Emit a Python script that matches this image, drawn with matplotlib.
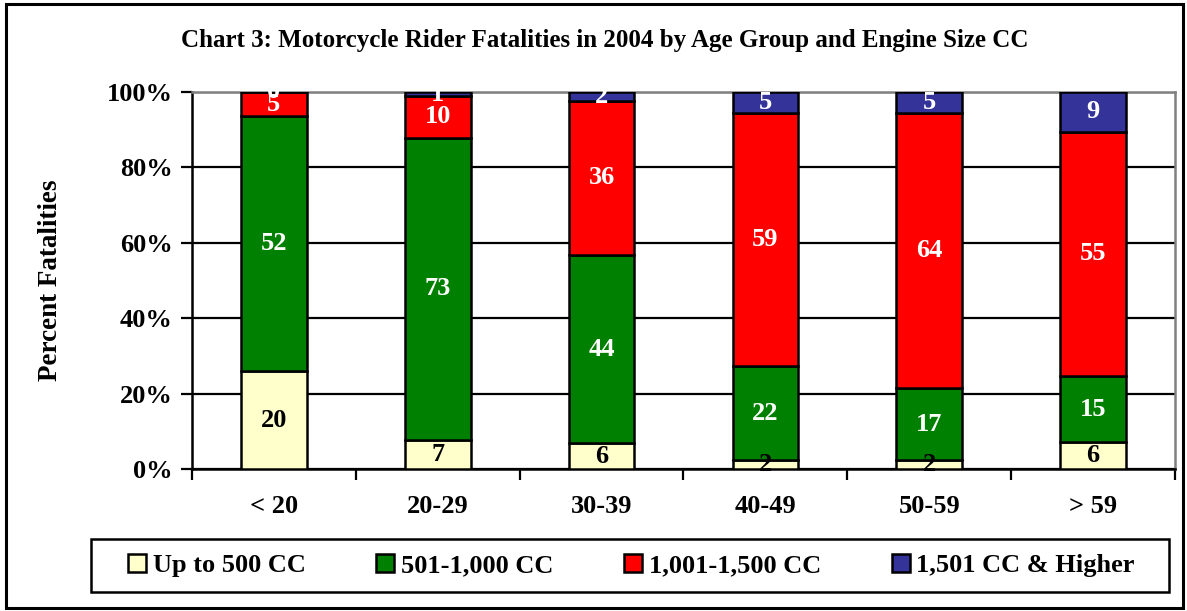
import matplotlib
matplotlib.use("Agg")
import matplotlib.pyplot as plt
import numpy as np
from matplotlib.patches import Rectangle

plt.rcParams["font.family"] = ["Liberation Serif", "DejaVu Serif"]
plt.rcParams["font.weight"] = "bold"

AGES = ["< 20", "20-29", "30-39", "40-49", "50-59", "> 59"]
SERIES = ["Up to 500 CC", "501-1,000 CC", "1,001-1,500 CC", "1,501 CC & Higher"]
UP_TO_500 = [20, 7, 6, 2, 2, 6]
CC_501_1000 = [52, 73, 44, 22, 17, 15]
CC_1001_1500 = [5, 10, 36, 59, 64, 55]
CC_1501_UP = [0, 1, 2, 5, 5, 9]
COLORS = ["#FFFFCC", "#008000", "#FF0000", "#333399"]
TEXT_COLORS = ["black", "white", "white", "white"]

W, H = 1187, 611
fig = plt.figure(figsize=(W / 100, H / 100), dpi=100)
ax = fig.add_axes([192 / W, 1 - 469 / H, (1175 - 192) / W, (469 - 92) / H])

counts = np.array([UP_TO_500, CC_501_1000, CC_1001_1500, CC_1501_UP], dtype=float)
pct = counts / counts.sum(axis=0) * 100
x = np.arange(len(AGES))

# labels may hang below the axis but get cut at the 100% line
clip = Rectangle((0, -0.2), 1, 1.2, transform=ax.transAxes, visible=False)
ax.add_patch(clip)

bottom = np.zeros(len(AGES))
for i, name in enumerate(SERIES):
    ax.bar(x, pct[i], 0.4, bottom=bottom, color=COLORS[i], edgecolor="black",
           linewidth=1.8, label=name, zorder=3)
    for j in range(len(AGES)):
        t = ax.text(x[j], bottom[j] + pct[i][j] / 2, f"{int(counts[i][j])}",
                    ha="center", va="center", fontsize=19, fontweight="bold",
                    color=TEXT_COLORS[i], zorder=4)
        t.set_clip_path(clip)
    bottom += pct[i]

ax.set_xlim(-0.5, len(AGES) - 0.5)
ax.set_ylim(0, 100)
ax.set_yticks([0, 20, 40, 60, 80, 100])
ax.set_yticklabels([f"{v}%" for v in [0, 20, 40, 60, 80, 100]])
ax.yaxis.grid(True, color="black", linewidth=1.6, zorder=0)
ax.set_axisbelow(True)
ax.set_xticks(np.arange(-0.5, len(AGES)))
ax.set_xticklabels([])
ax.set_xticks(x, AGES, minor=True)
ax.tick_params(axis="x", which="major", direction="out", length=8, width=1.6)
ax.tick_params(axis="x", which="minor", length=0, pad=19, labelsize=19)
ax.tick_params(axis="y", direction="out", length=8, width=1.6, labelsize=19, pad=6)
for lab in ax.get_xticklabels(minor=True) + ax.get_yticklabels():
    lab.set_fontweight("bold")

for s in ["left", "bottom"]:
    ax.spines[s].set_color("black")
    ax.spines[s].set_linewidth(1.8)
for s in ["top", "right"]:
    ax.spines[s].set_color("#808080")
    ax.spines[s].set_linewidth(1.8)

ax.set_ylabel("Percent Fatalities", fontsize=19.5, fontweight="bold")
ax.yaxis.set_label_coords((63 - 192) / (1175 - 192), 0.5)

fig.text(605 / W, 1 - 41 / H, "Chart 3: Motorcycle Rider Fatalities in 2004 by Age Group and Engine Size CC",
         ha="center", va="center", fontsize=18, fontweight="bold")

# legend items spread across the box, box drawn separately
leg = fig.legend(loc="center", bbox_to_anchor=(128 / W, 1 - 592 / H, (1135 - 128) / W, 53 / H),
                 mode="expand", ncol=4, fontsize=19, frameon=False,
                 handlelength=0.68, handleheight=0.68, handletextpad=0.25, borderaxespad=0,
                 borderpad=0)
for t in leg.get_texts():
    t.set_fontweight("bold")
for p in leg.legend_handles:
    p.set_linewidth(1.8)
fig.patches.append(Rectangle((91 / W, 1 - 592 / H), (1169 - 91) / W, 53 / H, transform=fig.transFigure,
                             fill=False, edgecolor="black", linewidth=1.8))

fig.patches.append(Rectangle((6 / W, 3 / H), (W - 10) / W, (H - 7) / H, transform=fig.transFigure,
                             fill=False, edgecolor="black", linewidth=2.2))

fig.savefig("out.png", dpi=100)
